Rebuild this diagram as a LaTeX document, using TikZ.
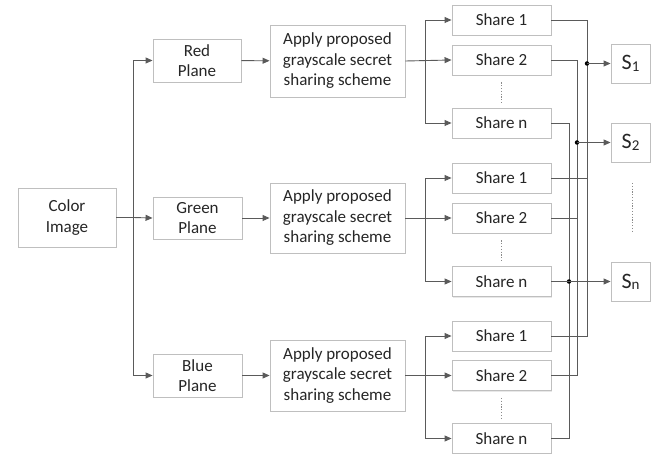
\documentclass[tikz,border=0pt]{standalone}
\usepackage{fontspec}
\setmainfont{Carlito}
\usetikzlibrary{arrows.meta,shadows,calc}
\definecolor{wire}{HTML}{5A5A5A}
\definecolor{boxline}{HTML}{BFBFBF}
\definecolor{txt}{HTML}{262626}
\tikzset{
  blk/.style={draw=boxline, line width=0.9pt, fill=white, text=txt, align=center,
    inner sep=0pt, font=\fontsize{17}{20.5}\selectfont,
    drop shadow={opacity=0.18, shadow xshift=1.2pt, shadow yshift=-1.2pt}},
  wireline/.style={draw=wire, line width=0.9pt},
  arr/.style={wireline, -{Triangle[length=7pt,width=6pt]}},
  dotline/.style={draw=wire!70, line width=0.7pt, dash pattern=on 1.2pt off 1.6pt},
  junc/.style={circle, fill=black, inner sep=0pt, minimum size=4.5pt}
}
\newcommand{\Slab}[1]{S\raisebox{-2.5pt}{\fontsize{15}{15}\selectfont #1}}
\begin{document}
\begin{tikzpicture}[x=1pt,y=-1pt]
\useasboundingbox (0,0) rectangle (659,454);
% left column
\node[blk, minimum width=98pt, minimum height=59pt] (ci) at (67,217.5) {Color\\Image};
\node[blk, minimum width=88pt, minimum height=43pt] (rp) at (197,60.5) {Red\\Plane};
\node[blk, minimum width=89pt, minimum height=42pt] (gp) at (197.5,218) {Green\\Plane};
\node[blk, minimum width=89pt, minimum height=43pt] (bp) at (197.5,375.5) {Blue\\Plane};
% apply boxes
\node[blk, minimum width=135pt, minimum height=72pt] (ra) at (337.5,61) {Apply proposed\\grayscale secret\\sharing scheme};
\node[blk, minimum width=135pt, minimum height=70pt] (ga) at (337.5,218) {Apply proposed\\grayscale secret\\sharing scheme};
\node[blk, minimum width=135pt, minimum height=71pt] (ba) at (337.5,375.5) {Apply proposed\\grayscale secret\\sharing scheme};
% shares
\foreach \p/\a/\b/\c in {r/20/60/123, g/178/218/281.5, b/336/375.5/438.5}{
  \node[blk, minimum width=99pt, minimum height=30pt] (\p s1) at (501.5,\a) {Share 1};
  \node[blk, minimum width=99pt, minimum height=30pt] (\p s2) at (501.5,\b) {Share 2};
  \node[blk, minimum width=99pt, minimum height=30pt] (\p sn) at (501.5,\c) {Share n};
  \draw[dotline] ($(\p s2.south)+(0,7)$) -- ($(\p sn.north)+(0,-5)$);
}
% S boxes
\node[blk, minimum width=39pt, minimum height=39pt, font=\fontsize{22}{22}\selectfont] (S1) at (630.5,63.5) {\Slab{1}};
\node[blk, minimum width=39pt, minimum height=39pt, font=\fontsize{22}{22}\selectfont] (S2) at (630.5,142.5) {\Slab{2}};
\node[blk, minimum width=39pt, minimum height=39pt, font=\fontsize{22}{22}\selectfont] (Sn) at (630.5,281.5) {S\raisebox{-1pt}{\fontsize{15}{15}\selectfont n}};
\draw[dotline] (632,183) -- (632,233);
% color image to planes
\coordinate (bus) at (133,217.5);
\draw[wireline] (ci.east) -- (bus);
\draw[arr] (bus) |- (rp.west);
\draw[arr] (bus) |- (bp.west);
\draw[arr] (bus) -- (gp.west);
% planes to apply
\draw[arr] (rp) -- (ra);
\draw[arr] (gp) -- (ga);
\draw[arr] (bp) -- (ba);
% apply to shares
\foreach \p in {r,g,b}{
  \draw[arr] (\p a.east) -- (\p s2.west);
  \coordinate (\p f) at ($(\p a.east)!0.5!(\p s2.west)+(-3,0)$);
  \draw[arr] (\p f) |- (\p s1.west);
  \draw[arr] (\p f) |- (\p sn.west);
}
% output buses
\draw[wireline] (rs1.east) -- (rs1.east -| 587,0) -- (bs1.east -| 587,0) -- (bs1.east);
\draw[wireline] (gs1.east) -- (gs1.east -| 587,0);
\draw[wireline] (rs2.east) -- (rs2.east -| 577,0) -- (bs2.east -| 577,0) -- (bs2.east);
\draw[wireline] (gs2.east) -- (gs2.east -| 577,0);
\draw[wireline] (rsn.east) -- (rsn.east -| 569,0) -- (bsn.east -| 569,0) -- (bsn.east);
% junctions and outputs
\node[junc] (j1) at (S1.west -| 587,0) {};
\node[junc] (j2) at (S2.west -| 577,0) {};
\node[junc] (jn) at (Sn.west -| 569,0) {};
\draw[arr] (j1.center) -- (S1.west);
\draw[arr] (j2.center) -- (S2.west);
\draw[wireline] (gsn.east) -- (jn.center);
\draw[arr] (jn.center) -- (Sn.west);
\end{tikzpicture}
\end{document}
